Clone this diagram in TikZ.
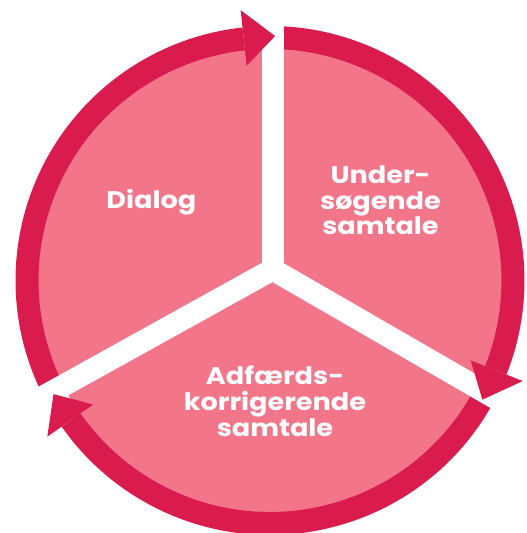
\documentclass[tikz,border=0pt]{standalone}
\usepackage{fontspec}
\setmainfont{Poppins}
\newfontfamily\lblfont{Poppins}[FakeStretch=1.13]
\usetikzlibrary{calc}
\definecolor{ringred}{RGB}{218,27,78}
\definecolor{sectorpink}{RGB}{243,117,137}
\begin{document}
\begin{tikzpicture}[x=1pt,y=1pt,
  ringarc/.style={draw=ringred, line width=23pt},
  gapbar/.style={draw=white, line width=22pt},
  headtip/.style={fill=ringred},
  lbl/.style={text=white, font=\lblfont\fontsize{24}{25.7}\selectfont\bfseries, align=center, inner sep=0pt}]
\useasboundingbox (0,0) rectangle (527,533);
\coordinate (O) at (270,252.5);
\coordinate (Y) at (272.6,263.5);
\fill[sectorpink] (O) circle (232);
% ring arcs
\draw[ringarc] ($(O)+(207:243)$) arc[start angle=207, end angle=96.2, radius=243];
\draw[ringarc] ($(O)+(89.4:243)$) arc[start angle=89.4, end angle=-21.7, radius=243];
\draw[ringarc] ($(O)+(-27.45:243)$) arc[start angle=-27.45, end angle=-144.96, radius=243];
% white gaps
\coordinate (gtop) at ($(Y)+(90:300)$);
\coordinate (gright) at ($(Y)+(-30:300)$);
\coordinate (gleft) at ($(Y)+(209:300)$);
\draw[gapbar] (Y) -- (gtop);
\draw[gapbar] (Y) -- (gright);
\draw[gapbar] (Y) -- (gleft);
% arrow heads
\fill[headtip] ($(O)+(96.2:216)$) -- ($(O)+(96.2:272)$) -- ($(O)+(88.8:244.5)$) -- cycle;
\fill[headtip] ($(O)+(-21.7:216)$) -- ($(O)+(-21.7:272)$) -- ($(O)+(-29.3:243.5)$) -- cycle;
\fill[headtip] ($(O)+(215.04:216)$) -- ($(O)+(215.04:272)$) -- ($(O)+(207.7:244.5)$) -- cycle;
% labels
\node[lbl] (dialog) at (151.3,331.3) {Dialog};
\node[lbl] (under) at (380.5,332.5) {Under-\\søgende\\samtale};
\node[lbl] (adf) at (275,132) {Adfærds-\\korrigerende\\samtale};
\end{tikzpicture}
\end{document}
